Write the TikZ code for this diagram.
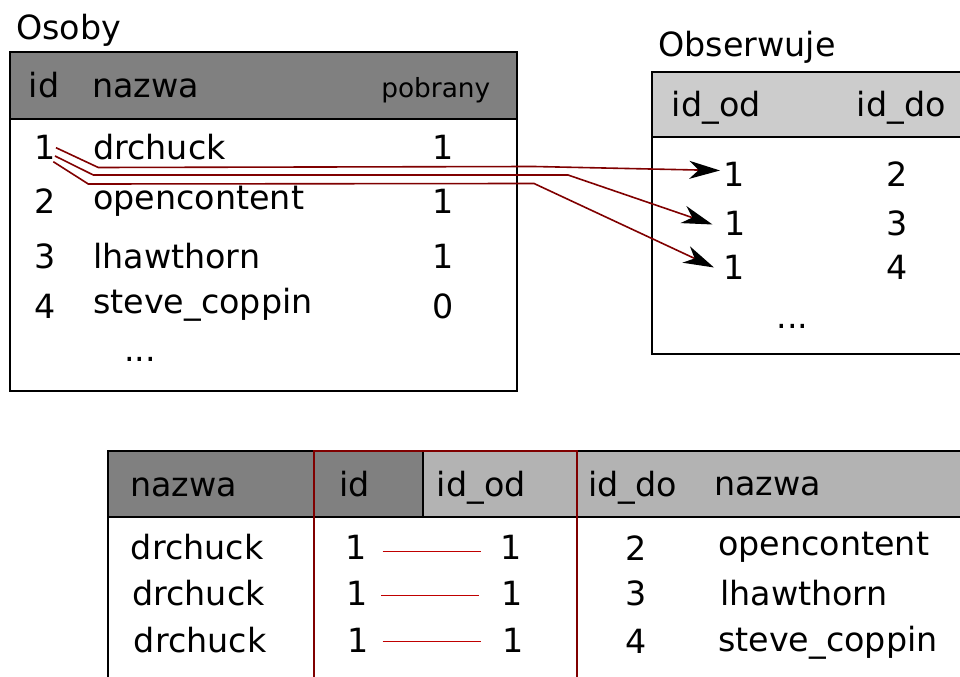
\documentclass[tikz,border=0pt]{standalone}
\usepackage{fontspec}
\setmainfont{DejaVu Sans}
\usetikzlibrary{arrows.meta}
\definecolor{hdrdark}{HTML}{808080}
\definecolor{hdrlight}{HTML}{CCCCCC}
\definecolor{hdrmid}{HTML}{B3B3B3}
\definecolor{linkc}{HTML}{800000}
\definecolor{joinred}{HTML}{C00000}
\begin{document}
\begin{tikzpicture}[x=0.75pt,y=-0.75pt,
  txt/.style={anchor=base west,inner sep=0pt,font=\fontsize{25}{30}\selectfont},
  smalltxt/.style={anchor=base west,inner sep=0pt,font=\fontsize{19.8}{24}\selectfont},
  frame/.style={draw=black,line width=1.5pt},
  linkarrow/.style={draw=linkc,line width=1.2pt,-{Stealth[length=23pt,width=13.5pt,inset=7pt,black]}},
  joinline/.style={draw=joinred,line width=1.1pt},
  redframe/.style={draw=linkc,line width=1.3pt}]
\useasboundingbox (0,0) rectangle (960,677);
\clip (0,0) rectangle (960,677);

% ---------- Osoby ----------
\fill[hdrdark] (9.5,52.3) rectangle (516.7,119);
\draw[frame] (9.5,52.3) rectangle (516.7,390.7);
\draw[frame] (9.5,119) -- (516.7,119);
\node[txt] (osobyT) at (16,40) {Osoby};
\node[txt] (oHid) at (28.7,97.7) {id};
\node[txt] (oHnazwa) at (92,97.7) {nazwa};
\node[smalltxt] (oHpob) at (381,97.5) {pobrany};
\node[txt] (o1) at (33.8,160) {1};
\node[txt] (on1) at (93,160) {drchuck};
\node[txt] (op1) at (432.7,160) {1};
\node[txt] (o2) at (33.8,213.3) {2};
\node[txt] (on2) at (93,209.3) {opencontent};
\node[txt] (op2) at (432.7,213.3) {1};
\node[txt] (o3) at (33.8,268.3) {3};
\node[txt] (on3) at (93,268.3) {lhawthorn};
\node[txt] (op3) at (432.7,268.3) {1};
\node[txt] (o4) at (33.8,318.3) {4};
\node[txt] (on4) at (93,313.3) {steve\_coppin};
\node[txt] (op4) at (432.7,318.3) {0};
\node[txt] (odots) at (124,361.7) {...};

% ---------- Obserwuje ----------
\fill[hdrlight] (651.7,71.7) rectangle (975,137.3);
\draw[frame] (975,71.7) -- (651.7,71.7) -- (651.7,354) -- (975,354);
\draw[frame] (651.7,137.3) -- (975,137.3);
\node[txt] (obsT) at (658.3,56.7) {Obserwuje};
\node[txt] (bHod) at (671.7,116.7) {id\_od};
\node[txt] (bHdo) at (856.7,116.7) {id\_do};
\node[txt] (b1) at (723.3,186.7) {1};
\node[txt] (bd1) at (886.7,186.7) {2};
\node[txt] (b2) at (724.5,236) {1};
\node[txt] (bd2) at (886.7,236) {3};
\node[txt] (b3) at (723.3,279.3) {1};
\node[txt] (bd3) at (886.7,279.3) {4};
\node[txt] (bdots) at (776.5,328.3) {...};

% ---------- links ----------
\coordinate (s1) at (56,147.7);
\coordinate (s2) at (55,156);
\coordinate (s3) at (53.3,161.7);
\coordinate (k1a) at (98.3,167.5);
\coordinate (k1b) at (534,166.5);
\coordinate (k2a) at (93.3,175);
\coordinate (k2b) at (568,175);
\coordinate (k3a) at (88.3,184);
\coordinate (k3b) at (534,183.5);
\coordinate (t1) at (720,170.5);
\coordinate (t2) at (712.5,224.5);
\coordinate (t3) at (714,267.5);
\draw[linkarrow] (s1) -- (k1a) -- (k1b) -- (t1);
\draw[linkarrow] (s2) -- (k2a) -- (k2b) -- (t2);
\draw[linkarrow] (s3) -- (k3a) -- (k3b) -- (t3);

% ---------- joined table ----------
\fill[hdrdark] (108.3,451) rectangle (423.3,517.3);
\fill[hdrmid] (423.3,451) rectangle (975,517.3);
\draw[frame] (975,451) -- (108.3,451) -- (108.3,690);
\draw[frame] (108.3,517.3) -- (975,517.3);
\draw[frame] (423.3,451) -- (423.3,517.3);
\draw[redframe] (313.7,690) -- (313.7,451) -- (577.3,451) -- (577.3,690);
\node[txt] (jHnazwa) at (130,496) {nazwa};
\node[txt] (jHid) at (339,496) {id};
\node[txt] (jHod) at (436.7,496) {id\_od};
\node[txt] (jHdo) at (588,496.7) {id\_do};
\node[txt] (jHnazwa2) at (714,495) {nazwa};

\node[txt] (jn1) at (130.7,559.3) {drchuck};
\node[txt] (jn2) at (132,605.7) {drchuck};
\node[txt] (jn3) at (133.7,652.7) {drchuck};
\node[txt] (ji1) at (345,559.3) {1};
\node[txt] (ji2) at (346.5,605.7) {1};
\node[txt] (ji3) at (347.5,652.7) {1};
\node[txt] (jo1) at (500,559.3) {1};
\node[txt] (jo2) at (501.5,605.7) {1};
\node[txt] (jo3) at (502.5,652.7) {1};
\node[txt] (jd1) at (625,560) {2};
\node[txt] (jd2) at (625,605.7) {3};
\node[txt] (jd3) at (625,653) {4};
\node[txt] (jm1) at (718,555) {opencontent};
\node[txt] (jm2) at (720,605.7) {lhawthorn};
\node[txt] (jm3) at (718,651.7) {steve\_coppin};

\coordinate (j1a) at (382.7,551.7);
\coordinate (j1b) at (480.7,551.7);
\coordinate (j2a) at (381.3,595.7);
\coordinate (j2b) at (479.3,595.7);
\coordinate (j3a) at (382.7,641.3);
\coordinate (j3b) at (480.7,641.3);
\draw[joinline] (j1a) -- (j1b);
\draw[joinline] (j2a) -- (j2b);
\draw[joinline] (j3a) -- (j3b);
\end{tikzpicture}
\end{document}
